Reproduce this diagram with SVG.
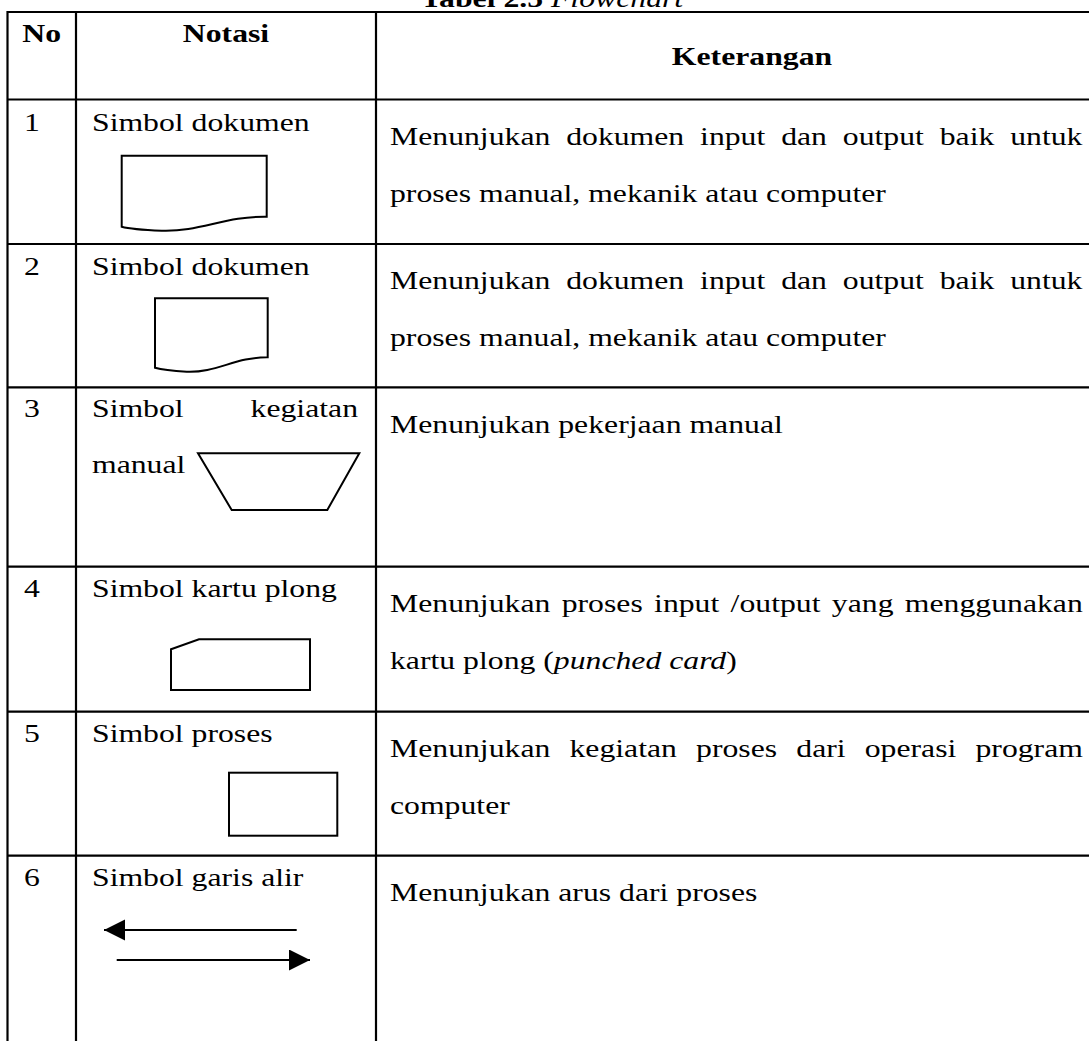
<svg xmlns="http://www.w3.org/2000/svg" width="1089" height="1041" viewBox="0 0 1089 1041">
<style>
.t{font-family:"Liberation Serif","Times New Roman",serif;font-size:26px;fill:#000}
.b{font-weight:bold}
.m{text-anchor:middle}
.e{text-anchor:end}
.grid line{stroke:#000;stroke-width:2.2}
.sym{fill:none;stroke:#000;stroke-width:2;stroke-linejoin:miter}
.flow{stroke:#000;stroke-width:2;fill:none}
</style>
<defs>
<marker id="ah" markerUnits="userSpaceOnUse" markerWidth="22" markerHeight="22" refX="21" refY="10.5" orient="auto">
<path d="M0,0 L21,10.5 L0,21 Z" fill="#000"/>
</marker>
</defs>
<rect width="1089" height="1041" fill="#fff"/>
<text class="t b m" transform="translate(552 7) scale(1.22 1)">Tabel 2.5 <tspan font-weight="normal" font-style="italic">Flowchart</tspan></text>
<g id="grid" class="grid">
<line x1="7.5" y1="12" x2="1089" y2="12"/>
<line x1="7.5" y1="99.5" x2="1089" y2="99.5"/>
<line x1="7.5" y1="244" x2="1089" y2="244"/>
<line x1="7.5" y1="387.3" x2="1089" y2="387.3"/>
<line x1="7.5" y1="566.7" x2="1089" y2="566.7"/>
<line x1="7.5" y1="711.7" x2="1089" y2="711.7"/>
<line x1="7.5" y1="855.7" x2="1089" y2="855.7"/>
<line x1="7.5" y1="11" x2="7.5" y2="1041"/>
<line x1="76" y1="11" x2="76" y2="1041"/>
<line x1="376" y1="11" x2="376" y2="1041"/>
</g>
<g id="header">
<text class="t b m" transform="translate(41.75 41.7) scale(1.22 1)">No</text>
<text class="t b m" transform="translate(226 41.7) scale(1.22 1)">Notasi</text>
<text class="t b m" transform="translate(752 65) scale(1.22 1)">Keterangan</text>
</g>
<g id="row1">
<text class="t" transform="translate(24 130.5) scale(1.22 1)">1</text>
<text class="t" transform="translate(92 130.5) scale(1.22 1)">Simbol dokumen</text>
<path class="sym" d="M121.7 155.7 H266.7 V216.7 C225 216 200 232 161.7 230.7 C145 230 130 229 121.7 226.7 Z"/>
<text class="t" transform="translate(390 145) scale(1.22 1)" word-spacing="6.5">Menunjukan dokumen input dan output baik untuk</text>
<text class="t" transform="translate(390 201.7) scale(1.22 1)">proses manual, mekanik atau computer</text>
</g>
<g id="row2">
<text class="t" transform="translate(24 275) scale(1.22 1)">2</text>
<text class="t" transform="translate(92 275) scale(1.22 1)">Simbol dokumen</text>
<path class="sym" d="M155 298.3 H267.7 V357.3 C235.5 357 216 373 186.7 371.7 C175 371 163 370 155 367.7 Z"/>
<text class="t" transform="translate(390 289.3) scale(1.22 1)" word-spacing="6.5">Menunjukan dokumen input dan output baik untuk</text>
<text class="t" transform="translate(390 346) scale(1.22 1)">proses manual, mekanik atau computer</text>
</g>
<g id="row3">
<text class="t" transform="translate(24 417.3) scale(1.22 1)">3</text>
<text class="t" transform="translate(92 417.3) scale(1.22 1)">Simbol</text>
<text class="t e" transform="translate(358 417.3) scale(1.22 1)">kegiatan</text>
<text class="t" transform="translate(92 473.3) scale(1.22 1)">manual</text>
<path class="sym" d="M198 453.3 H359.3 L327.3 510 H231.7 Z"/>
<text class="t" transform="translate(390 432.8) scale(1.22 1)">Menunjukan pekerjaan manual</text>
</g>
<g id="row4">
<text class="t" transform="translate(24 596.7) scale(1.22 1)">4</text>
<text class="t" transform="translate(92 596.7) scale(1.22 1)">Simbol kartu plong</text>
<path class="sym" d="M199 639.3 H310 V690 H171 V649.3 Z"/>
<text class="t" transform="translate(390 612.2) scale(1.22 1)" word-spacing="2.8">Menunjukan proses input /output yang menggunakan</text>
<text class="t" transform="translate(390 668.9) scale(1.22 1)">kartu plong (<tspan font-style="italic">punched card</tspan>)</text>
</g>
<g id="row5">
<text class="t" transform="translate(24 741.7) scale(1.22 1)">5</text>
<text class="t" transform="translate(92 741.7) scale(1.22 1)">Simbol proses</text>
<rect class="sym" x="229" y="772.7" width="108.3" height="63"/>
<text class="t" transform="translate(390 757.2) scale(1.22 1)" word-spacing="9.2">Menunjukan kegiatan proses dari operasi program</text>
<text class="t" transform="translate(390 813.9) scale(1.22 1)">computer</text>
</g>
<g id="row6">
<text class="t" transform="translate(24 885.5) scale(1.22 1)">6</text>
<text class="t" transform="translate(92 885.5) scale(1.22 1)">Simbol garis alir</text>
<text class="t" transform="translate(390 901.2) scale(1.22 1)">Menunjukan arus dari proses</text>
</g>
<g id="connectors">
<line class="flow" x1="296.7" y1="930" x2="104" y2="930" marker-end="url(#ah)"/>
<line class="flow" x1="116.7" y1="960" x2="310" y2="960" marker-end="url(#ah)"/>
</g>
</svg>
